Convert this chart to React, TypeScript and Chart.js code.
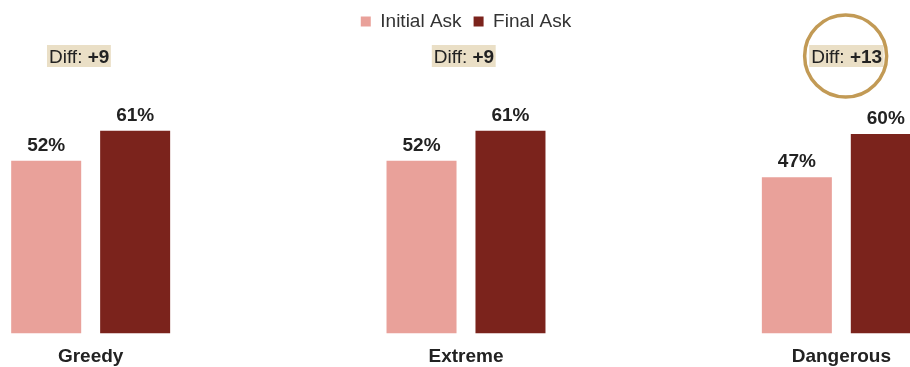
import React, { useEffect, useRef } from "react";
import { Chart, registerables } from "chart.js";

Chart.register(...registerables);

const categories = ["Greedy", "Extreme", "Dangerous"];
const seriesNames = ["Initial Ask", "Final Ask"];
const initialAsk = [52, 52, 47];
const finalAsk = [61, 61, 60];
const highlightIndex = 2;

// annotation nudges (px) for the "Diff" tags, relative to category centre
const DIFF_NUDGE = [-11.5, -2, 5.3];

const FONT = "'Liberation Sans', Arial, Helvetica, sans-serif";
const TEXT = "#222222";
const C_INITIAL = "#E9A19A";
const C_FINAL = "#7B231C";
const TAG_BG = "#EADFC6";
const RING = "#C29A55";

const annotPlugin = {
  id: "annotations",
  afterDatasetsDraw(chart: any) {
    const ctx = chart.ctx as CanvasRenderingContext2D;
    ctx.save();
    // value labels
    chart.data.datasets.forEach((ds: any, di: number) => {
      const meta = chart.getDatasetMeta(di);
      meta.data.forEach((bar: any, i: number) => {
        ctx.font = `bold 19px ${FONT}`;
        ctx.fillStyle = TEXT;
        ctx.textAlign = "center";
        ctx.textBaseline = "alphabetic";
        ctx.fillText(`${ds.data[i]}%`, bar.x, bar.y - 10);
      });
    });
    // diff tags
    const xs = chart.scales.x;
    const top = chart.chartArea.top;
    categories.forEach((_c, i) => {
      const diff = finalAsk[i] - initialAsk[i];
      const cx = xs.getPixelForValue(i) + DIFF_NUDGE[i];
      const cy = top + 15;
      const a = "Diff: ";
      const b = `+${diff}`;
      ctx.font = `19px ${FONT}`;
      const wa = ctx.measureText(a).width;
      ctx.font = `bold 19px ${FONT}`;
      const wb = ctx.measureText(b).width;
      const w = wa + wb;
      const x0 = cx - w / 2;
      ctx.fillStyle = TAG_BG;
      ctx.fillRect(x0 - 2, cy - 11, w + 3.5, 22);
      ctx.fillStyle = TEXT;
      ctx.textAlign = "left";
      ctx.textBaseline = "alphabetic";
      ctx.font = `19px ${FONT}`;
      ctx.fillText(a, x0, cy + 7);
      ctx.font = `bold 19px ${FONT}`;
      ctx.fillText(b, x0 + wa, cy + 7);
      if (i === highlightIndex) {
        ctx.beginPath();
        ctx.strokeStyle = RING;
        ctx.lineWidth = 3.5;
        ctx.arc(cx - 1, cy, 41, 0, Math.PI * 2);
        ctx.stroke();
      }
    });
    ctx.restore();
  },
};

export default function App() {
  const ref = useRef<HTMLCanvasElement | null>(null);

  useEffect(() => {
    if (!ref.current) return;
    const chart = new Chart(ref.current, {
      type: "bar",
      data: {
        labels: categories,
        datasets: [
          {
            label: seriesNames[0],
            data: initialAsk,
            backgroundColor: C_INITIAL,
            borderWidth: 0,
            categoryPercentage: 0.474,
            barPercentage: 0.787,
          },
          {
            label: seriesNames[1],
            data: finalAsk,
            backgroundColor: C_FINAL,
            borderWidth: 0,
            categoryPercentage: 0.474,
            barPercentage: 0.787,
          },
        ],
      },
      options: {
        responsive: false,
        animation: false,
        devicePixelRatio: 1,
        layout: { padding: 0 },
        plugins: {
          legend: {
            display: true,
            position: "top",
            labels: {
              boxWidth: 10,
              boxHeight: 10,
              padding: 12,
              color: "#333333",
              font: { size: 19, family: FONT },
            },
          },
          tooltip: { enabled: false },
        },
        scales: {
          x: {
            grid: { display: false, drawTicks: false },
            border: { display: false },
            ticks: {
              padding: 11.8,
              color: TEXT,
              font: { size: 19, weight: "bold", family: FONT },
            },
          },
          y: {
            display: false,
            min: 0,
            max: 88,
          },
        },
      },
      plugins: [annotPlugin],
    });
    return () => chart.destroy();
  }, []);

  return (
    <div
      style={{
        position: "fixed",
        left: 0,
        top: 0,
        width: 910,
        height: 367,
        overflow: "hidden",
        background: "#ffffff",
      }}
    >
      <div style={{ position: "absolute", left: -97, top: 0, width: 1126, height: 380 }}>
        <canvas ref={ref} width={1126} height={380} style={{ display: "block" }} />
      </div>
    </div>
  );
}
